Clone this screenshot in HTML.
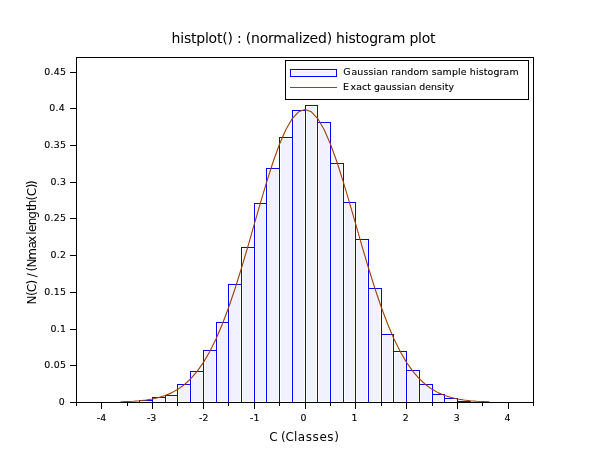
<!DOCTYPE html>
<html><head><meta charset="utf-8"><title>histplot</title>
<style>
html,body{margin:0;padding:0;background:#fff;}
svg{display:block;}
text{font-family:"DejaVu Sans","Liberation Sans",sans-serif;fill:#000;}
.t10{font-size:9.4px;stroke:#000;stroke-width:0.12px;}
.t12{font-size:12px;}
.t14{font-size:14px;}
</style></head><body>
<svg width="610" height="460" viewBox="0 0 610 460">
<rect x="0" y="0" width="610" height="460" fill="#ffffff"/>
<g shape-rendering="crispEdges" fill="#ffffff" stroke="#0000ff" stroke-width="1">
<rect x="139.5" y="400.5" width="13.0" height="2"/>
<rect x="152.5" y="397.5" width="13.0" height="5"/>
<rect x="165.5" y="395.5" width="12.0" height="7"/>
<rect x="177.5" y="384.5" width="13.0" height="18"/>
<rect x="190.5" y="371.5" width="13.0" height="31"/>
<rect x="203.5" y="350.5" width="13.0" height="52"/>
<rect x="216.5" y="322.5" width="12.0" height="80"/>
<rect x="228.5" y="284.5" width="13.0" height="118"/>
<rect x="241.5" y="247.5" width="13.0" height="155"/>
<rect x="254.5" y="203.5" width="12.0" height="199"/>
<rect x="266.5" y="168.5" width="13.0" height="234"/>
<rect x="279.5" y="137.5" width="13.0" height="265"/>
<rect x="292.5" y="110.5" width="13.0" height="292"/>
<rect x="305.5" y="105.5" width="12.0" height="297"/>
<rect x="317.5" y="122.5" width="13.0" height="280"/>
<rect x="330.5" y="163.5" width="13.0" height="239"/>
<rect x="343.5" y="202.5" width="12.0" height="200"/>
<rect x="355.5" y="239.5" width="13.0" height="163"/>
<rect x="368.5" y="288.5" width="13.0" height="114"/>
<rect x="381.5" y="334.5" width="12.0" height="68"/>
<rect x="393.5" y="351.5" width="13.0" height="51"/>
<rect x="406.5" y="370.5" width="13.0" height="32"/>
<rect x="419.5" y="384.5" width="13.0" height="18"/>
<rect x="432.5" y="394.5" width="12.0" height="8"/>
<rect x="444.5" y="398.5" width="13.0" height="4"/>
<rect x="457.5" y="401.5" width="13.0" height="1"/>
</g>
<g shape-rendering="crispEdges" fill="#f1f1ff" stroke="none">
<rect x="154" y="399" width="10" height="2"/>
<rect x="167" y="397" width="9" height="4"/>
<rect x="179" y="386" width="10" height="15"/>
<rect x="192" y="373" width="10" height="28"/>
<rect x="205" y="352" width="10" height="49"/>
<rect x="218" y="324" width="9" height="77"/>
<rect x="230" y="286" width="10" height="115"/>
<rect x="243" y="249" width="10" height="152"/>
<rect x="256" y="205" width="9" height="196"/>
<rect x="268" y="170" width="10" height="231"/>
<rect x="281" y="139" width="10" height="262"/>
<rect x="294" y="112" width="10" height="289"/>
<rect x="307" y="107" width="9" height="294"/>
<rect x="319" y="124" width="10" height="277"/>
<rect x="332" y="165" width="10" height="236"/>
<rect x="345" y="204" width="9" height="197"/>
<rect x="357" y="241" width="10" height="160"/>
<rect x="370" y="290" width="10" height="111"/>
<rect x="383" y="336" width="9" height="65"/>
<rect x="395" y="353" width="10" height="48"/>
<rect x="408" y="372" width="10" height="29"/>
<rect x="421" y="386" width="10" height="15"/>
<rect x="434" y="396" width="9" height="5"/>
<rect x="446" y="400" width="10" height="1"/>
</g>
<polyline fill="none" stroke="#a04000" stroke-width="1.1" stroke-linejoin="round" points="120.67,401.79 127.03,401.56 133.38,401.22 139.74,400.71 146.09,399.98 152.45,398.95 158.81,397.51 165.16,395.53 171.52,392.87 177.88,389.34 184.23,384.76 190.59,378.92 196.94,371.60 203.30,362.60 209.66,351.75 216.01,338.92 222.37,324.05 228.72,307.20 235.08,288.50 241.44,268.23 247.79,246.79 254.15,224.71 260.51,202.65 266.86,181.32 273.22,161.49 279.57,143.96 285.93,129.44 292.29,118.58 298.64,111.85 305.00,109.58 311.36,111.85 317.71,118.58 324.07,129.44 330.43,143.96 336.78,161.49 343.14,181.32 349.49,202.65 355.85,224.71 362.21,246.79 368.56,268.23 374.92,288.50 381.27,307.20 387.63,324.05 393.99,338.92 400.34,351.75 406.70,362.60 413.06,371.60 419.41,378.92 425.77,384.76 432.12,389.34 438.48,392.87 444.84,395.53 451.19,397.51 457.55,398.95 463.91,399.98 470.26,400.71 476.62,401.22 482.98,401.56 489.33,401.79"/>
<g shape-rendering="crispEdges" stroke="#000" stroke-width="1" fill="none">
<rect x="76.5" y="57.5" width="457" height="345"/>
<line x1="101.5" y1="402.5" x2="101.5" y2="409"/>
<line x1="152.5" y1="402.5" x2="152.5" y2="409"/>
<line x1="203.5" y1="402.5" x2="203.5" y2="409"/>
<line x1="254.5" y1="402.5" x2="254.5" y2="409"/>
<line x1="305.5" y1="402.5" x2="305.5" y2="409"/>
<line x1="355.5" y1="402.5" x2="355.5" y2="409"/>
<line x1="406.5" y1="402.5" x2="406.5" y2="409"/>
<line x1="457.5" y1="402.5" x2="457.5" y2="409"/>
<line x1="508.5" y1="402.5" x2="508.5" y2="409"/>
<line x1="76.5" y1="402.5" x2="76.5" y2="406"/>
<line x1="127.5" y1="402.5" x2="127.5" y2="406"/>
<line x1="177.5" y1="402.5" x2="177.5" y2="406"/>
<line x1="228.5" y1="402.5" x2="228.5" y2="406"/>
<line x1="279.5" y1="402.5" x2="279.5" y2="406"/>
<line x1="330.5" y1="402.5" x2="330.5" y2="406"/>
<line x1="381.5" y1="402.5" x2="381.5" y2="406"/>
<line x1="432.5" y1="402.5" x2="432.5" y2="406"/>
<line x1="482.5" y1="402.5" x2="482.5" y2="406"/>
<line x1="533.5" y1="402.5" x2="533.5" y2="406"/>
<line x1="70" y1="402.5" x2="76.5" y2="402.5"/>
<line x1="70" y1="365.5" x2="76.5" y2="365.5"/>
<line x1="70" y1="329.5" x2="76.5" y2="329.5"/>
<line x1="70" y1="292.5" x2="76.5" y2="292.5"/>
<line x1="70" y1="255.5" x2="76.5" y2="255.5"/>
<line x1="70" y1="218.5" x2="76.5" y2="218.5"/>
<line x1="70" y1="182.5" x2="76.5" y2="182.5"/>
<line x1="70" y1="145.5" x2="76.5" y2="145.5"/>
<line x1="70" y1="108.5" x2="76.5" y2="108.5"/>
<line x1="70" y1="72.5" x2="76.5" y2="72.5"/>
<rect x="285.5" y="60.5" width="243" height="39" fill="#ffffff"/>
</g>
<rect x="290.5" y="69.5" width="46" height="7" fill="#ffffff" stroke="#0000ff" stroke-width="1" shape-rendering="crispEdges"/>
<rect x="292" y="71" width="43" height="4" fill="#f1f1ff" shape-rendering="crispEdges"/>
<line x1="290" y1="87.5" x2="337" y2="87.5" stroke="#a04000" stroke-width="1" shape-rendering="crispEdges"/>
<text class="t10" transform="scale(1.00000,1)" x="343.25 351.40" y="75" style="letter-spacing:0.149px">Gaussian random sample histogram</text>
<text class="t10" transform="scale(1.00000,1)" x="343.08 350.58" y="90" style="letter-spacing:0.062px">Exact gaussian density</text>
<text class="t10" transform="scale(1.00000,1)" x="101.50" y="421" text-anchor="middle">-4</text>
<text class="t10" transform="scale(1.00000,1)" x="151.60" y="421" text-anchor="middle">-3</text>
<text class="t10" transform="scale(1.00000,1)" x="203.80" y="421" text-anchor="middle">-2</text>
<text class="t10" transform="scale(1.00000,1)" x="254.70" y="421" text-anchor="middle">-1</text>
<text class="t10" transform="scale(1.00000,1)" x="303.60" y="421" text-anchor="middle">0</text>
<text class="t10" transform="scale(1.00000,1)" x="354.60" y="421" text-anchor="middle">1</text>
<text class="t10" transform="scale(1.00000,1)" x="405.70" y="421" text-anchor="middle">2</text>
<text class="t10" transform="scale(1.00000,1)" x="456.70" y="421" text-anchor="middle">3</text>
<text class="t10" transform="scale(1.00000,1)" x="507.50" y="421" text-anchor="middle">4</text>
<text class="t10" transform="scale(1.00000,1)" x="65.00" y="405" text-anchor="end" style="letter-spacing:0.3px">0</text>
<text class="t10" transform="scale(1.00000,1)" x="66.30" y="368" text-anchor="end" style="letter-spacing:0.3px">0.05</text>
<text class="t10" transform="scale(1.00000,1)" x="66.30" y="332" text-anchor="end" style="letter-spacing:0.3px">0.1</text>
<text class="t10" transform="scale(1.00000,1)" x="66.30" y="295" text-anchor="end" style="letter-spacing:0.3px">0.15</text>
<text class="t10" transform="scale(1.00000,1)" x="66.30" y="258" text-anchor="end" style="letter-spacing:0.3px">0.2</text>
<text class="t10" transform="scale(1.00000,1)" x="66.30" y="221" text-anchor="end" style="letter-spacing:0.3px">0.25</text>
<text class="t10" transform="scale(1.00000,1)" x="66.30" y="185" text-anchor="end" style="letter-spacing:0.3px">0.3</text>
<text class="t10" transform="scale(1.00000,1)" x="66.30" y="148" text-anchor="end" style="letter-spacing:0.3px">0.35</text>
<text class="t10" transform="scale(1.00000,1)" x="65.00" y="111" text-anchor="end" style="letter-spacing:0.3px">0.4</text>
<text class="t10" transform="scale(1.00000,1)" x="66.30" y="75" text-anchor="end" style="letter-spacing:0.3px">0.45</text>
<text class="t14" x="171.6" y="43" textLength="264" lengthAdjust="spacing">histplot() : (normalized) histogram plot</text>
<text class="t12" y="440.7" x="269.2 277.5 281.0 285.6 294.1 297.7 305.65 312.45 319.45 327.3 334.25">C (Classes)</text>
<text class="t12" transform="translate(36.2,304.1) rotate(-90)" x="-0.4 8.2 11.9 19.5 22.6 26.8 30 32.6 36.7 44.3 55.5 61.25 67 69.3 72.2 78.95 85.4 93.0 96.8 103.7 107.8 115.9 119.05">N(C) / (Nmax length(C))</text>
</svg>
</body></html>
